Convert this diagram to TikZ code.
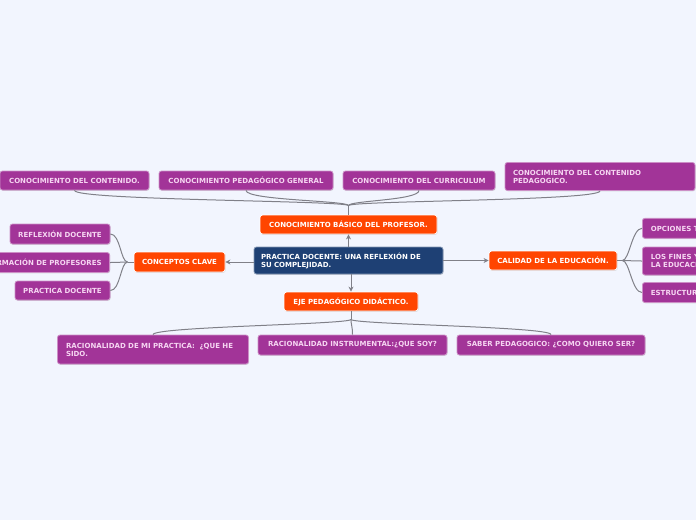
\documentclass[tikz,border=0pt]{standalone}
\usepackage{fontspec}
\setmainfont{DejaVu Sans}
\usetikzlibrary{arrows.meta,shadows,calc}
\definecolor{bg}{RGB}{242,245,254}
\definecolor{purp}{RGB}{162,52,152}
\definecolor{purptxt}{RGB}{246,214,242}
\definecolor{orng}{RGB}{255,69,0}
\definecolor{navy}{RGB}{30,64,116}
\definecolor{conn}{RGB}{128,128,136}
\begin{document}
\begin{tikzpicture}[x=1pt,y=-1pt,
  base/.style={rounded corners=2.5pt, inner sep=0pt, font=\fontsize{7}{8}\selectfont\bfseries, line width=0.8pt,
    drop shadow={shadow xshift=0.6pt, shadow yshift=-0.8pt, opacity=0.25}},
  sub/.style={base, fill=purp, draw=purp!55!white, text=purptxt},
  mainbox/.style={base, fill=orng, draw=white, text=white},
  rootbox/.style={base, fill=navy, draw=navy!55!white, text=white},
  link/.style={draw=conn, line width=1pt},
  arr/.style={link, -{Stealth[length=5pt,width=5pt]}}]
\fill[bg] (0,0) rectangle (696,520);
\useasboundingbox (0,0) rectangle (696,520);

% central and main nodes
\node[rootbox, minimum width=189pt, minimum height=27pt, text width=175pt, align=left] (root) at (348.5,260.5) {PRACTICA DOCENTE: UNA REFLEXIÓN DE\\SU COMPLEJIDAD.};
\node[mainbox, minimum width=177pt, minimum height=19pt] (basico) at (348.5,224.5) {CONOCIMIENTO BÁSICO DEL PROFESOR.};
\node[mainbox, minimum width=134pt, minimum height=19pt] (eje) at (351,301.5) {EJE PEDAGÓGICO DIDÁCTICO.};
\node[mainbox, minimum width=91pt, minimum height=20pt] (clave) at (179.5,262) {CONCEPTOS CLAVE};
\node[mainbox, minimum width=128pt, minimum height=19pt] (calidad) at (553,260.5) {CALIDAD DE LA EDUCACIÓN.};

% top sub nodes
\node[sub, minimum width=149pt, minimum height=19pt] (t1) at (74.5,180.5) {CONOCIMIENTO DEL CONTENIDO.};
\node[sub, minimum width=174pt, minimum height=19pt] (t2) at (246,180.5) {CONOCIMIENTO PEDAGÓGICO GENERAL};
\node[sub, minimum width=152pt, minimum height=19pt] (t3) at (419,180.5) {CONOCIMIENTO DEL CURRICULUM};
\node[sub, minimum width=190pt, minimum height=28pt, text width=174pt, align=left] (t4) at (600,176.5) {CONOCIMIENTO DEL CONTENIDO\\PEDAGOGICO.};

% left sub nodes
\node[sub, minimum width=100pt, minimum height=20pt] (l1) at (60,234) {REFLEXIÓN DOCENTE};
\node[sub, anchor=east, inner xsep=8pt, minimum height=20pt] (l2) at (110,262.5) {FORMACIÓN DE PROFESORES};
\node[sub, minimum width=95pt, minimum height=19pt] (l3) at (62.5,290.5) {PRACTICA DOCENTE};

% right sub nodes
\node[sub, anchor=west, inner xsep=8.5pt, minimum height=20pt] (r1) at (642,228.3) {OPCIONES TEÓRICAS};
\node[sub, anchor=west, inner xsep=8.5pt, minimum height=28pt, align=left] (r2) at (642,261) {LOS FINES Y VALORES DE\\LA EDUCACIÓN.};
\node[sub, anchor=west, inner xsep=8.5pt, minimum height=20pt] (r3) at (642,292.5) {ESTRUCTURA DEL SISTEMA};

% bottom sub nodes
\node[sub, minimum width=191pt, minimum height=29pt, text width=174pt, align=left] (b1) at (153,349.5) {RACIONALIDAD DE MI PRACTICA:~~¿QUE HE\\SIDO.};
\node[sub, minimum width=189pt, minimum height=20pt] (b2) at (352.5,345) {RACIONALIDAD INSTRUMENTAL:¿QUE SOY?};
\node[sub, minimum width=188pt, minimum height=20pt] (b3) at (551,345) {SABER PEDAGOGICO: ¿COMO QUIERO SER?};

% arrows from the root
\draw[arr] (root.north) -- (basico.south);
\draw[arr] (eje.north |- root.south) -- (eje.north);
\draw[arr] (root.west |- clave.east) -- (clave.east);
\draw[arr] (root.east |- calidad.west) -- (calidad.west);

% top branch
\coordinate (th) at ($(basico.north)+(0,-9)$);
\draw[link] (basico.north) -- (th);
\foreach \t in {t1,t2,t3,t4}
  \draw[link] (th) .. controls +(0,-5) and +(0,10) .. (\t.south);

% left branch
\coordinate (lh) at ($(clave.west)+(-6,0)$);
\draw[link] (clave.west) -- (lh);
\foreach \t in {l1,l2,l3}
  \draw[link] (lh) .. controls +(-7,0) and +(10,0) .. (\t.east);

% right branch
\coordinate (rh) at ($(calidad.east)+(5,0)$);
\draw[link] (calidad.east) -- (rh);
\foreach \t in {r1,r2,r3}
  \draw[link] (rh) .. controls +(7,0) and +(-10,0) .. (\t.west);

% bottom branch
\coordinate (bh) at ($(eje.south)+(0,8)$);
\draw[link] (eje.south) -- (bh);
\foreach \t in {b1,b2,b3}
  \draw[link] (bh) .. controls +(0,5) and +(0,-8) .. (\t.north);
\end{tikzpicture}
\end{document}
